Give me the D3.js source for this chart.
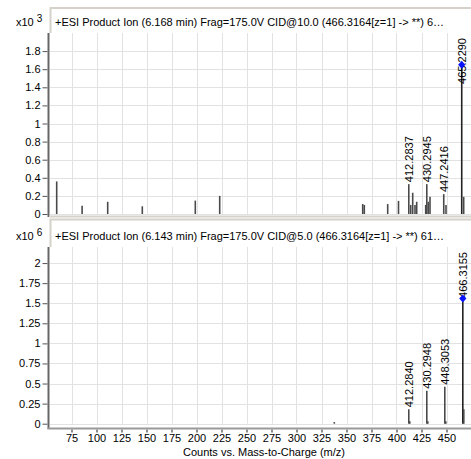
<!DOCTYPE html>
<html>
<head>
<meta charset="utf-8">
<script src="https://cdn.jsdelivr.net/npm/d3@7"></script>
<style>
body { margin: 0; background: #fff; }
svg text { font-family: Arial, "Liberation Sans", sans-serif; font-size: 11px; fill: #000; }
</style>
</head>
<body>
<svg id="chart" width="471" height="459"></svg>
<script>
// Shared x ticks (m/z)
const xTicks = [75, 100, 125, 150, 175, 200, 225, 250, 275, 300, 325, 350, 375, 400, 425, 450];

// Top spectrum (x10^3 counts)
const topTitle = "+ESI Product Ion (6.168 min) Frag=175.0V CID@10.0 (466.3164[z=1] -> **) 6\u2026";
const topTicks = [0, 0.2, 0.4, 0.6, 0.8, 1, 1.2, 1.4, 1.6, 1.8];
const topMz = [60.2, 85.6, 111.2, 145.8, 198.8, 223.2, 366.2, 367.8, 391.2, 402.0,
    412.2837, 414.2, 416.2, 418.5, 420.2, 429.2, 430.2945, 431.8, 433.5, 447.2416, 449.5, 465.2290, 467.2];
const topInt = [0.36, 0.09, 0.135, 0.085, 0.148, 0.2, 0.11, 0.1, 0.11, 0.145,
    0.33, 0.1, 0.235, 0.1, 0.135, 0.1, 0.33, 0.135, 0.19, 0.22, 0.1, 1.65, 0.19];
const topLabels = ["412.2837", "430.2945", "447.2416", "465.2290"];
const topPrecursor = 465.2290;

// Bottom spectrum (x10^6 counts)
const botTitle = "+ESI Product Ion (6.143 min) Frag=175.0V CID@5.0 (466.3164[z=1] -> **) 61\u2026";
const botTicks = [0, 0.25, 0.5, 0.75, 1, 1.25, 1.5, 1.75, 2];
const botMz = [337.8, 412.2840, 413.3, 430.2948, 431.3, 448.3053, 449.3, 466.3155, 467.3];
const botInt = [0.02, 0.18, 0.03, 0.41, 0.03, 0.46, 0.03, 1.56, 0.18];
const botLabels = ["412.2840", "430.2948", "448.3053", "466.3155"];
const botPrecursor = 466.3155;

const svg = d3.select('#chart');

const x = d3.scaleLinear()
    .domain([53.5, 474.5])
    .range([50, 471]);

// Draw one spectrum panel
function drawPanel(p) {

    const y = d3.scaleLinear()
        .domain([0, p.yMax])
        .range([p.zeroY, p.plotTop]);

    const g = svg.append('g');

    // Title strip border
    g.append('path')
        .attr('d', `M50.5,${p.plotTop}V${p.frameY}H471`)
        .attr('fill', 'none')
        .attr('stroke', '#d6d2ca')
        .attr('stroke-width', 2);

    g.append('text')
        .attr('x', 55)
        .attr('y', p.titleY)
        .attr('font-size', '11.5px')
        .text(p.title);

    // Exponent label
    const ex = g.append('text')
        .attr('x', 16)
        .attr('y', p.titleY);
    ex.append('tspan').text('x10 ');
    ex.append('tspan').attr('dy', -4).attr('font-size', '10px').text(p.exp);

    // Grid
    g.selectAll('.vgrid')
        .data(xTicks)
        .enter()
        .append('line')
        .attr('x1', d => Math.round(x(d)) + 0.5)
        .attr('x2', d => Math.round(x(d)) + 0.5)
        .attr('y1', p.plotTop)
        .attr('y2', p.zeroY)
        .attr('stroke', '#e2e2e2');

    g.selectAll('.hgrid')
        .data(p.ticks)
        .enter()
        .append('line')
        .attr('x1', 50)
        .attr('x2', 471)
        .attr('y1', d => Math.round(y(d)) + 0.5)
        .attr('y2', d => Math.round(y(d)) + 0.5)
        .attr('stroke', '#e2e2e2');

    // Y axis
    const ay = g.append('g')
        .attr('transform', 'translate(47.5,0)')
        .call(d3.axisLeft(y).tickValues(p.ticks).tickSize(5).tickPadding(2).tickFormat(d3.format('~g')));
    ay.select('.domain').remove();
    ay.selectAll('.tick line').attr('stroke', '#555');
    ay.selectAll('.tick text').attr('font-size', '11px').attr('font-family', null);

    g.append('line')
        .attr('x1', 48.5).attr('x2', 48.5)
        .attr('y1', p.plotTop).attr('y2', p.axisY + 1)
        .attr('stroke', '#666')
        .attr('stroke-width', 2);

    // Peaks
    const peaks = p.mz.map((m, i) => ({ mz: m, v: p.inten[i] }));

    g.selectAll('.peak')
        .data(peaks)
        .enter()
        .append('line')
        .attr('class', 'peak')
        .attr('x1', d => x(d.mz))
        .attr('x2', d => x(d.mz))
        .attr('y1', p.zeroY)
        .attr('y2', d => y(d.v))
        .attr('stroke', d => d.mz === p.precursor ? '#222' : '#4a4a4a')
        .attr('stroke-width', 1.6);

    // Peak labels, kept inside the plot
    const labelled = peaks.filter(d => p.labels.includes(d.mz.toFixed(4)));

    g.selectAll('.peak-label')
        .data(labelled)
        .enter()
        .append('text')
        .attr('class', 'peak-label')
        .text(d => d.mz.toFixed(4))
        .each(function (d) {
            const len = this.getComputedTextLength();
            let base = y(d.v) - 2;
            if (base - len < p.plotTop + 5) base = p.plotTop + 5 + len;
            d3.select(this).attr('transform', `translate(${x(d.mz) + 4},${base}) rotate(-90)`);
        });

    // Precursor marker
    g.append('path')
        .attr('d', 'M0,-4L3.6,0L0,4L-3.6,0Z')
        .attr('fill', '#0a14ff')
        .attr('transform', `translate(${x(p.precursor)},${y(peaks.find(d => d.mz === p.precursor).v)})`);

    return g;
}

drawPanel({
    title: topTitle, exp: '3', ticks: topTicks, yMax: 2.0,
    mz: topMz, inten: topInt, labels: topLabels, precursor: topPrecursor,
    frameY: 8, titleY: 26, plotTop: 33, zeroY: 214, axisY: 216
});

// Top panel bottom edge
svg.append('line')
    .attr('x1', 49).attr('x2', 471)
    .attr('y1', 216.5).attr('y2', 216.5)
    .attr('stroke', '#d6d2ca')
    .attr('stroke-width', 2);

drawPanel({
    title: botTitle, exp: '6', ticks: botTicks, yMax: 2.2,
    mz: botMz, inten: botInt, labels: botLabels, precursor: botPrecursor,
    frameY: 219.5, titleY: 240, plotTop: 247, zeroY: 423.7, axisY: 428
});

// Bottom x axis
const ax = svg.append('g')
    .attr('transform', 'translate(0,429.5)')
    .call(d3.axisBottom(x).tickValues(xTicks).tickSize(3).tickPadding(2));
ax.select('.domain').remove();
ax.selectAll('.tick line').attr('stroke', '#666').attr('stroke-width', 1.5);
ax.selectAll('.tick text').attr('font-size', '11px').attr('font-family', null);

svg.append('line')
    .attr('x1', 47.5).attr('x2', 471)
    .attr('y1', 428.5).attr('y2', 428.5)
    .attr('stroke', '#999')
    .attr('stroke-width', 2);

svg.append('text')
    .attr('x', 264)
    .attr('y', 456)
    .attr('text-anchor', 'middle')
    .text('Counts vs. Mass-to-Charge (m/z)');
</script>
</body>
</html>
